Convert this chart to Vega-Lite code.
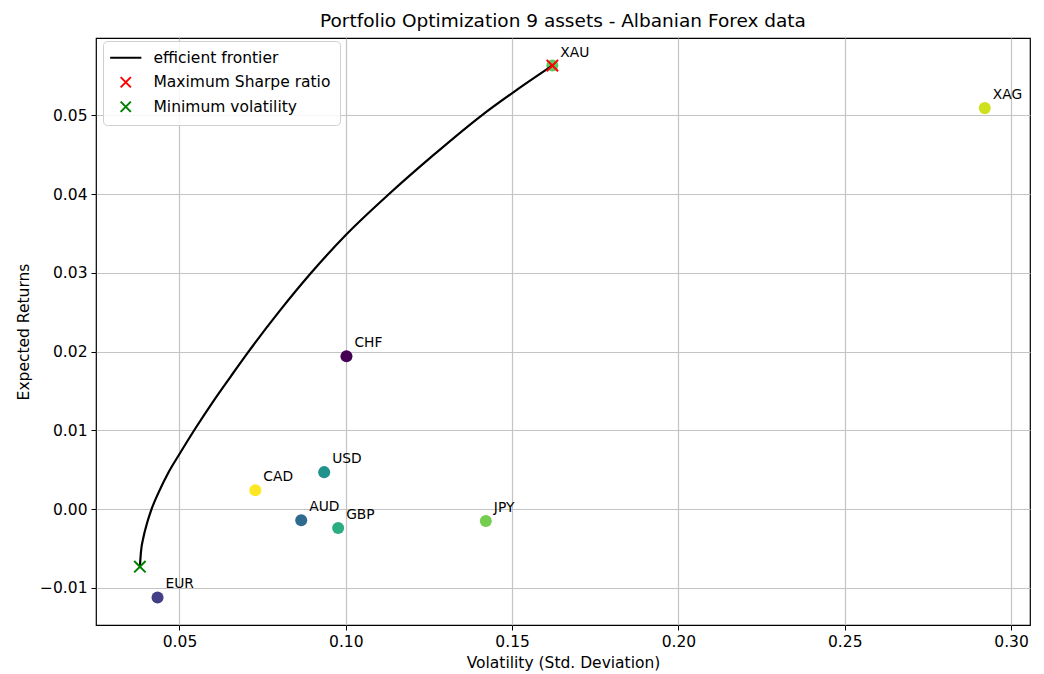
{
  "$schema": "https://vega.github.io/schema/vega-lite/v6.json",
  "width": 934,
  "height": 587,
  "autosize": {"type": "none"},
  "padding": {"left": 96, "top": 38, "right": 14, "bottom": 49},
  "background": "white",
  "title": {"text": "Portfolio Optimization 9 assets - Albanian Forex data", "fontSize": 18.5, "font": "DejaVu Sans", "fontWeight": "normal", "color": "#000", "offset": 8, "anchor": "middle"},
  "config": {
    "font": "DejaVu Sans",
    "view": {"stroke": "#000", "strokeWidth": 1.2},
    "axis": {"domain": false, "grid": true, "gridColor": "#c4c4c4", "gridWidth": 1.2, "tickColor": "#000", "tickSize": 5, "labelFontSize": 15.5, "labelColor": "#000", "titleFontSize": 15.5, "titleFontWeight": "normal", "titleColor": "#000", "labelFont": "DejaVu Sans", "titleFont": "DejaVu Sans"}
  },
  "datasets": {
    "frontier": [
      {"vol": 0.0381, "ret": -0.0073},
      {"vol": 0.0384, "ret": -0.0055},
      {"vol": 0.0392, "ret": -0.0035},
      {"vol": 0.0403, "ret": -0.0017},
      {"vol": 0.0416, "ret": 0.0000},
      {"vol": 0.0438, "ret": 0.0022},
      {"vol": 0.0466, "ret": 0.0046},
      {"vol": 0.0500, "ret": 0.0070},
      {"vol": 0.0550, "ret": 0.0104},
      {"vol": 0.0600, "ret": 0.0136},
      {"vol": 0.0655, "ret": 0.0169},
      {"vol": 0.0706, "ret": 0.0199},
      {"vol": 0.0800, "ret": 0.0251},
      {"vol": 0.0896, "ret": 0.0300},
      {"vol": 0.1000, "ret": 0.0348},
      {"vol": 0.1130, "ret": 0.0400},
      {"vol": 0.1265, "ret": 0.0450},
      {"vol": 0.1406, "ret": 0.0499},
      {"vol": 0.1510, "ret": 0.0531},
      {"vol": 0.1621, "ret": 0.0563}
    ],
    "assets": [
      {"name": "CHF", "vol": 0.1002, "ret": 0.0194, "color": "#440154"},
      {"name": "EUR", "vol": 0.0434, "ret": -0.0112, "color": "#433e85"},
      {"name": "AUD", "vol": 0.0866, "ret": -0.0014, "color": "#2f6b8e"},
      {"name": "USD", "vol": 0.0935, "ret": 0.0047, "color": "#21918c"},
      {"name": "GBP", "vol": 0.0977, "ret": -0.0024, "color": "#29ad81"},
      {"name": "XAU", "vol": 0.1621, "ret": 0.0563, "color": "#5ec962"},
      {"name": "JPY", "vol": 0.1421, "ret": -0.0015, "color": "#74cd4f"},
      {"name": "XAG", "vol": 0.2921, "ret": 0.0509, "color": "#cfe11c"},
      {"name": "CAD", "vol": 0.0728, "ret": 0.0024, "color": "#fde725"}
    ],
    "special": [
      {"label": "Maximum Sharpe ratio", "vol": 0.1621, "ret": 0.0563},
      {"label": "Minimum volatility", "vol": 0.0381, "ret": -0.0073}
    ]
  },
  "encoding": {
    "x": {"field": "vol", "type": "quantitative", "title": "Volatility (Std. Deviation)",
      "scale": {"domain": [0.0249, 0.3057], "nice": false, "zero": false},
      "axis": {"values": [0.05, 0.10, 0.15, 0.20, 0.25, 0.30], "format": ".2f", "titlePadding": 6, "labelPadding": 4}},
    "y": {"field": "ret", "type": "quantitative", "title": "Expected Returns",
      "scale": {"domain": [-0.0147, 0.0598], "nice": false, "zero": false},
      "axis": {"values": [-0.01, 0.0, 0.01, 0.02, 0.03, 0.04, 0.05], "format": ".2f", "titlePadding": 8, "labelPadding": 4}}
  },
  "layer": [
    {
      "data": {"name": "assets"},
      "mark": {"type": "circle", "size": 145, "opacity": 1},
      "encoding": {"fill": {"field": "color", "type": "nominal", "scale": null}}
    },
    {
      "data": {"name": "frontier"},
      "mark": {"type": "line", "strokeWidth": 2.2, "interpolate": "monotone"},
      "encoding": {
        "color": {"datum": "efficient frontier", "type": "nominal", "title": null,
          "scale": {"domain": ["efficient frontier", "Maximum Sharpe ratio", "Minimum volatility"], "range": ["#000000", "#ff0000", "#008000"]},
          "legend": {"title": null, "orient": "none", "legendX": 7, "legendY": 3, "fillColor": "rgba(255,255,255,0.85)", "strokeColor": "#d0d0d0", "cornerRadius": 4, "padding": 9, "labelFontSize": 15.5, "labelLimit": 400, "labelColor": "#000", "labelFont": "DejaVu Sans", "symbolSize": 144, "symbolOffset": 6, "labelOffset": 20, "rowPadding": 5.5, "symbolStrokeWidth": 2,
            "encode": {"symbols": {"update": {
              "shape": {"signal": "datum.value === 'efficient frontier' ? 'M-2.6,0L2.6,0' : 'M-0.85,-0.85L0.85,0.85M0.85,-0.85L-0.85,0.85'"},
              "stroke": {"signal": "datum.value === 'efficient frontier' ? '#000000' : (datum.value === 'Maximum Sharpe ratio' ? '#ff0000' : '#008000')"},
              "fill": {"value": "transparent"},
              "strokeWidth": {"value": 2},
              "opacity": {"value": 1}
            }}}}
        }
      }
    },
    {
      "data": {"name": "special"},
      "mark": {"type": "point", "shape": "M-1,-1L1,1M1,-1L-1,1", "size": 130, "strokeWidth": 2, "filled": false, "opacity": 1},
      "encoding": {"color": {"field": "label", "type": "nominal", "title": null}}
    },
    {
      "data": {"name": "assets"},
      "mark": {"type": "text", "align": "left", "baseline": "middle", "dx": 8, "dy": -13, "fontSize": 13.8, "font": "DejaVu Sans", "color": "#000"},
      "encoding": {"text": {"field": "name", "type": "nominal"}}
    }
  ]
}
